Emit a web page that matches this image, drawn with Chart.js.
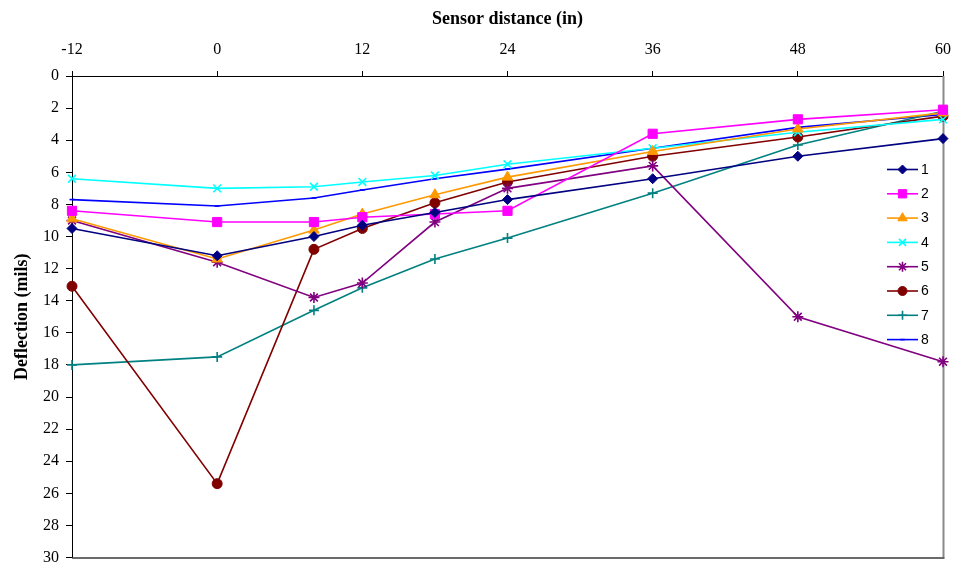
<!DOCTYPE html>
<html>
<head>
<meta charset="utf-8">
<script src="https://cdn.jsdelivr.net/npm/chart.js@4/dist/chart.umd.min.js"></script>
<style>
  html, body { margin: 0; padding: 0; background: #fff; }
  #wrap { width: 958px; height: 565px; position: relative; }
</style>
</head>
<body>
<div id="wrap"><canvas id="c" width="958" height="565"></canvas></div>
<script>
// Sensor positions along the slab (inches)
const sensorDistance = [-12, 0, 8, 12, 18, 24, 36, 48, 60];

// Deflection readings (mils) for each drop
const drop1 = [9.5, 11.2, 10.0, 9.3, 8.5, 7.7, 6.4, 5.0, 3.9];
const drop2 = [8.4, 9.1, 9.1, 8.8, 8.6, 8.4, 3.6, 2.7, 2.1];
const drop3 = [8.9, 11.4, 9.6, 8.6, 7.4, 6.3, 4.7, 3.3, 2.3];
const drop4 = [6.4, 7.0, 6.9, 6.6, 6.2, 5.5, 4.5, 3.5, 2.7];
const drop5 = [9.0, 11.6, 13.8, 12.9, 9.1, 7.0, 5.6, 15.0, 17.8];
const drop6 = [13.1, 25.4, 10.8, 9.5, 7.9, 6.6, 5.0, 3.8, 2.5];
const drop7 = [18.0, 17.5, 14.6, 13.2, 11.4, 10.1, 7.3, 4.3, 2.2];
const drop8 = [7.7, 8.1, 7.6, 7.1, 6.4, 5.8, 4.5, 3.2, 2.4];

const seriesLabels = ['1', '2', '3', '4', '5', '6', '7', '8'];
const seriesValues = [drop1, drop2, drop3, drop4, drop5, drop6, drop7, drop8];

const seriesStyle = [
  { color: '#000080', point: 'rectRot', r: 5 },
  { color: '#FF00FF', point: 'rect', r: 6.5 },
  { color: '#FF9900', point: 'triangle', r: 6 },
  { color: '#00FFFF', point: 'crossRot', r: 5.5 },
  { color: '#800080', point: 'star', r: 5.5 },
  { color: '#800000', point: 'circle', r: 5 },
  { color: '#008080', point: 'cross', r: 5 },
  { color: '#0000FF', point: 'line', r: 2.5 }
];

const datasets = seriesValues.map((vals, i) => {
  const st = seriesStyle[i];
  return {
    label: seriesLabels[i],
    data: sensorDistance.map((x, j) => ({ x: x, y: vals[j] })),
    borderColor: st.color,
    backgroundColor: st.color,
    borderWidth: 1.6,
    pointStyle: st.point,
    pointRadius: st.r,
    pointBorderColor: st.color,
    pointBackgroundColor: st.color,
    pointBorderWidth: (st.point === 'crossRot' || st.point === 'cross' || st.point === 'star' || st.point === 'line') ? 1.6 : 1,
    tension: 0,
    clip: false
  };
});

// Gray frame on the right and bottom of the plot area
const frameEdges = {
  id: 'frameEdges',
  beforeDatasetsDraw(chart) {
    const { ctx, chartArea: a } = chart;
    ctx.save();
    ctx.strokeStyle = '#8a8a8a';
    ctx.lineWidth = 2;
    ctx.beginPath();
    ctx.moveTo(a.right + 0.5, a.top);
    ctx.lineTo(a.right + 0.5, a.bottom);
    ctx.stroke();
    ctx.strokeStyle = '#3a3a3a';
    ctx.lineWidth = 1.5;
    ctx.beginPath();
    ctx.moveTo(a.left, a.bottom + 0.5);
    ctx.lineTo(a.right + 1.5, a.bottom + 0.5);
    ctx.stroke();
    ctx.restore();
  }
};

// Series key drawn inside the plot area on the right
const insideLegend = {
  id: 'insideLegend',
  afterDraw(chart) {
    const { ctx } = chart;
    const x0 = 887, x1 = 918, tx = 921, y0 = 169.5, step = 24.3;
    ctx.save();
    ctx.font = '14px "Liberation Sans", Arial, sans-serif';
    ctx.textBaseline = 'middle';
    ctx.textAlign = 'left';
    chart.data.datasets.forEach((ds, i) => {
      const y = y0 + i * step;
      ctx.strokeStyle = ds.borderColor;
      ctx.lineWidth = 1.6;
      ctx.beginPath();
      ctx.moveTo(x0, y);
      ctx.lineTo(x1, y);
      ctx.stroke();
      ctx.fillStyle = ds.pointBackgroundColor;
      ctx.strokeStyle = ds.pointBorderColor;
      ctx.lineWidth = ds.pointBorderWidth;
      Chart.helpers.drawPoint(ctx, {
        pointStyle: ds.pointStyle,
        radius: ds.pointRadius * 0.9,
        rotation: 0,
        borderWidth: ds.pointBorderWidth
      }, (x0 + x1) / 2, y);
      ctx.fillStyle = '#000';
      ctx.fillText(ds.label, tx, y + 0.5);
    });
    ctx.restore();
  }
};

new Chart(document.getElementById('c'), {
  type: 'line',
  data: { datasets: datasets },
  options: {
    responsive: false,
    animation: false,
    devicePixelRatio: 1,
    layout: { padding: { top: 0, left: 0, right: 15, bottom: 7 } },
    plugins: {
      legend: { display: false },
      tooltip: { enabled: false }
    },
    scales: {
      x: {
        type: 'linear',
        position: 'top',
        min: -12,
        max: 60,
        ticks: {
          stepSize: 12,
          color: '#000',
          padding: 12,
          font: { family: '"Liberation Serif", "Times New Roman", serif', size: 16 }
        },
        grid: { drawOnChartArea: false, drawTicks: true, tickLength: 5, color: '#000' },
        border: { display: true, color: '#000', width: 1 },
        title: {
          display: true,
          text: 'Sensor distance (in)',
          color: '#000',
          padding: { top: 9, bottom: 0 },
          font: { family: '"Liberation Serif", "Times New Roman", serif', size: 18, weight: 'bold' }
        },
        afterFit(scale) {
          scale.height = 76;
          scale.paddingLeft = 0;
          scale.paddingRight = 0;
        }
      },
      y: {
        type: 'linear',
        reverse: true,
        min: 0,
        max: 30,
        ticks: {
          stepSize: 2,
          color: '#000',
          padding: 7,
          font: { family: '"Liberation Serif", "Times New Roman", serif', size: 16 }
        },
        grid: { drawOnChartArea: false, drawTicks: true, tickLength: 6, color: '#000' },
        border: { display: true, color: '#000', width: 1 },
        title: {
          display: true,
          text: 'Deflection (mils)',
          color: '#000',
          padding: { top: 12, bottom: 0 },
          font: { family: '"Liberation Serif", "Times New Roman", serif', size: 18, weight: 'bold' }
        },
        afterFit(scale) {
          scale.width = 72;
          scale.paddingTop = 0;
          scale.paddingBottom = 0;
        }
      }
    }
  },
  plugins: [frameEdges, insideLegend]
});
</script>
</body>
</html>
